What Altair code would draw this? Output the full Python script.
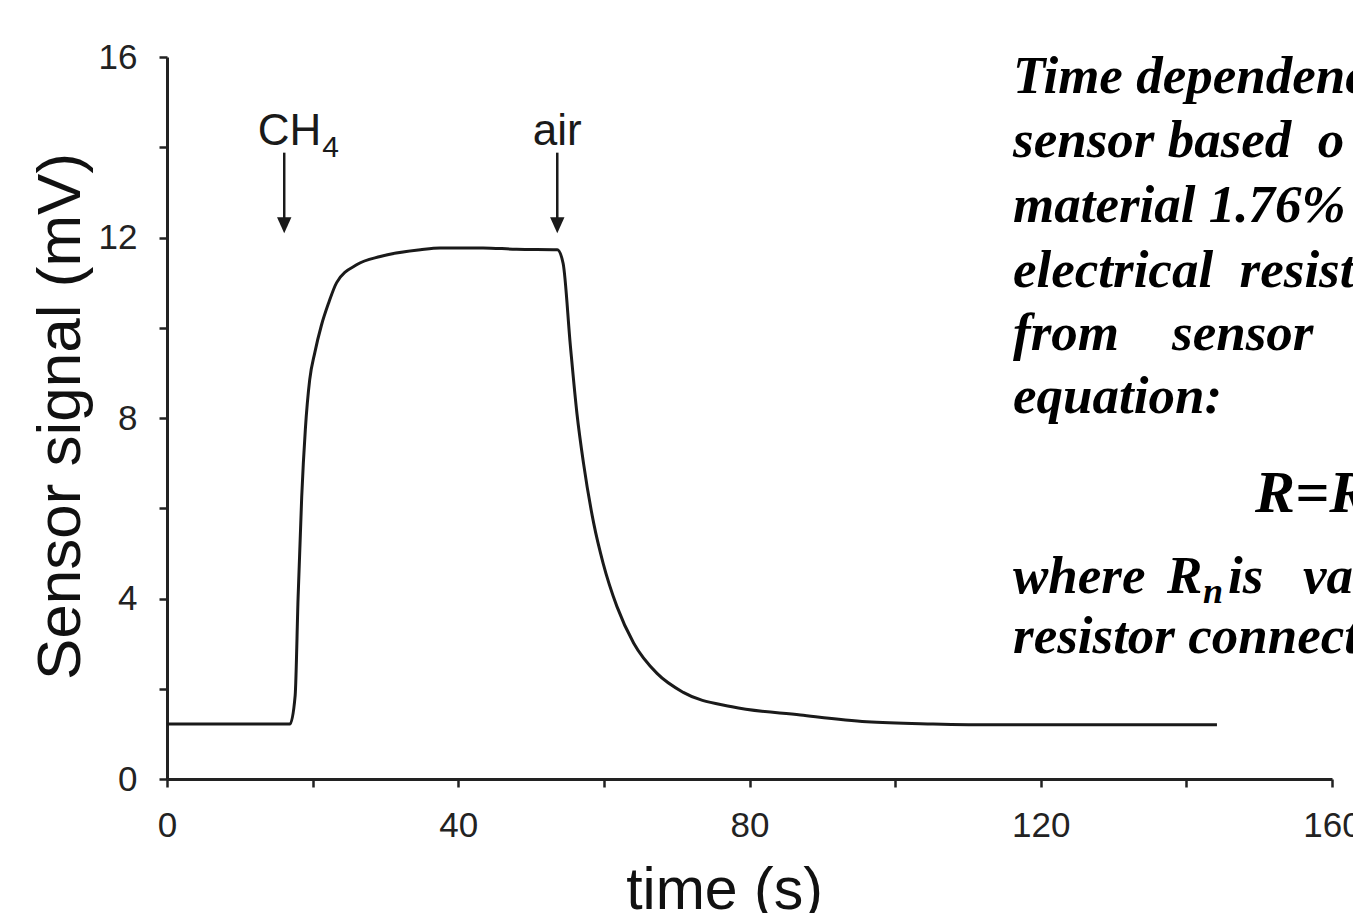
import altair as alt
import pandas as pd

# ---- data ----
time_s = [0, 16.9, 17.6, 18.0, 18.5, 19.0, 19.6, 20.3, 21.2, 22.2,
          23.3, 26.1, 29.3, 34.8, 37.5, 43.4, 48.0, 53.6, 54.4,
          55.4, 56.3, 57.2, 58.6, 59.9, 61.8, 64.1, 67.3, 70.9, 77.6,
          87.0, 96.1, 105.2, 114.4, 144.2]
signal_mV = [1.22, 1.22, 1.85, 4.0, 6.25, 7.75, 8.85, 9.45, 10.05, 10.55,
             11.0, 11.40, 11.58, 11.73, 11.77, 11.77, 11.74, 11.73, 11.43,
             9.6, 8.1, 7.0, 5.67, 4.78, 3.82, 3.01, 2.34, 1.92, 1.60,
             1.42, 1.27, 1.22, 1.20, 1.20]

x_ticks = [0, 20, 40, 60, 80, 100, 120, 140, 160]
y_ticks = [0, 2, 4, 6, 8, 10, 12, 14, 16]

gas_times = [16.1, 53.6]          # arrows: gas switched
gas_names = ["CH", "air"]
gas_sub = ["4", ""]
arrow_top = 13.88
arrow_bottom = 12.35
arrow_head = 12.27
label_v = 14.06

caption_lines = [
    "Time dependenc",
    "sensor based\u00a0 o",
    "material 1.76%",
    "electrical\u00a0 resist",
    "from\u00a0\u00a0\u00a0 sensor",
    "equation:",
    "R=R",
    "where",
    "R",
    "n",
    "is\u00a0\u00a0 valu",
    "resistor connect",
]
# layout of caption lines (pixels relative to plot area) and font size
caption_layout = [
    (846, 36, 53), (846, 100, 53), (846, 165, 53), (846, 230, 53),
    (846, 293, 53), (846, 356, 53), (1088, 455, 60), (846, 536, 53),
    (1000, 536, 53), (1036, 546, 36), (1061, 536, 53), (846, 596, 53),
]

INK = "#1a1a1a"

x_axis = alt.Axis(values=x_ticks,
                  labelExpr="datum.value % 40 === 0 ? datum.label : ''",
                  labelPadding=21, labelFlush=False, labelOverlap=False,
                  title="time (s)", titleFontSize=59,
                  titleX=557, titleY=129, titleBaseline="alphabetic",
                  titleAlign="center")
y_axis = alt.Axis(values=y_ticks,
                  labelExpr="datum.value % 4 === 0 ? datum.label : ''",
                  labelPadding=22, labelFlush=False, labelOverlap=False,
                  title="Sensor signal (mV)", titleFontSize=62,
                  titleX=-88, titleY=359, titleAngle=270,
                  titleBaseline="alphabetic", titleAlign="center")
x_scale = alt.Scale(domain=[0, 160], nice=False)
y_scale = alt.Scale(domain=[0, 16], nice=False)

df = pd.DataFrame({"t": time_s, "v": signal_mV})

curve = alt.Chart(df).mark_line(color=INK, strokeWidth=3, interpolate="monotone").encode(
    x=alt.X("t:Q", scale=x_scale, axis=x_axis),
    y=alt.Y("v:Q", scale=y_scale, axis=y_axis),
)

arr_df = pd.DataFrame({
    "t": gas_times,
    "top": [arrow_top] * len(gas_times),
    "bottom": [arrow_bottom] * len(gas_times),
    "head": [arrow_head] * len(gas_times),
    "name": gas_names,
    "sub": gas_sub,
    "lv": [label_v] * len(gas_times),
})

shafts = alt.Chart(arr_df).mark_rule(color=INK, strokeWidth=2.5).encode(
    x=alt.X("t:Q", scale=x_scale, axis=x_axis),
    y=alt.Y("top:Q", scale=y_scale, axis=y_axis),
    y2="bottom:Q",
)
heads = alt.Chart(arr_df).mark_point(
    shape="M-0.9,-1L0.9,-1L0,1Z", size=256, filled=True, color=INK, opacity=1
).encode(
    x=alt.X("t:Q", scale=x_scale, axis=x_axis),
    y=alt.Y("head:Q", scale=y_scale, axis=y_axis),
)

ch_df = arr_df.iloc[[0]]
air_df = arr_df.iloc[[1]]
ch_label = alt.Chart(ch_df).mark_text(
    align="right", baseline="alphabetic", dx=37, font="Liberation Sans",
    fontSize=44, color=INK
).encode(x=alt.X("t:Q", scale=x_scale, axis=x_axis),
         y=alt.Y("lv:Q", scale=y_scale, axis=y_axis), text="name:N")
ch_sub = alt.Chart(ch_df).mark_text(
    align="left", baseline="alphabetic", dx=38, dy=12, font="Liberation Sans",
    fontSize=30, color=INK
).encode(x=alt.X("t:Q", scale=x_scale, axis=x_axis),
         y=alt.Y("lv:Q", scale=y_scale, axis=y_axis), text="sub:N")
air_label = alt.Chart(air_df).mark_text(
    align="center", baseline="alphabetic", font="Liberation Sans",
    fontSize=44, color=INK
).encode(x=alt.X("t:Q", scale=x_scale, axis=x_axis),
         y=alt.Y("lv:Q", scale=y_scale, axis=y_axis), text="name:N")

caption_layers = []
for txt, (px, py, fs) in zip(caption_lines, caption_layout):
    caption_layers.append(
        alt.Chart(pd.DataFrame({"txt": [txt]})).mark_text(
            align="left", baseline="alphabetic", font="Liberation Serif",
            fontStyle="italic", fontWeight="bold", fontSize=fs, color="#000"
        ).encode(text="txt:N", x=alt.value(px), y=alt.value(py))
    )

chart = alt.layer(curve, shafts, heads, ch_label, ch_sub, air_label, *caption_layers).properties(
    width=1165, height=722,
    autosize=alt.AutoSizeParams(type="none"),
    padding={"left": 159, "top": 49, "right": 21, "bottom": 134},
    background="white",
).configure_view(stroke=None).configure_axis(
    grid=False, domainColor="#222", domainWidth=3, tickColor="#222",
    tickWidth=2.5, tickSize=8, labelFont="Liberation Sans", labelFontSize=35,
    labelColor="#222", titleFont="Liberation Sans", titleColor="#111",
    titleFontWeight="normal",
)

chart.save("out.html", embed_options={"renderer": "svg", "actions": False})
